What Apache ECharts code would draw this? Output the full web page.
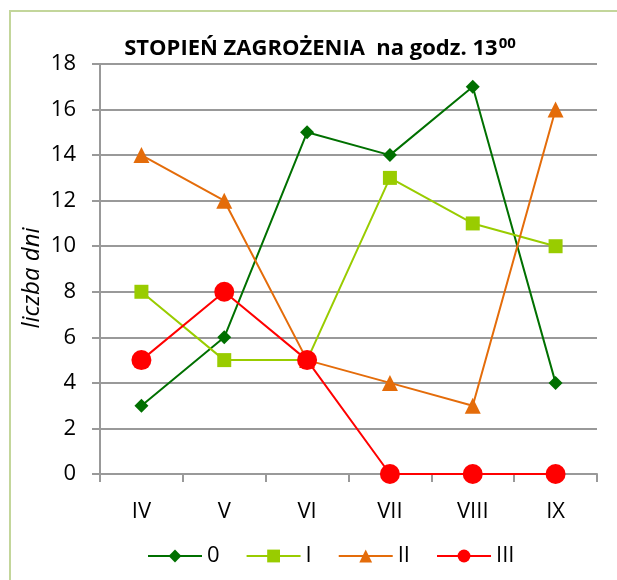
<!DOCTYPE html>
<html>
<head>
<meta charset="utf-8">
<script src="https://cdn.jsdelivr.net/npm/echarts@6/dist/echarts.min.js"></script>
<style>
  html, body { margin: 0; padding: 0; background: #fff; }
  #frame { position: absolute; left: 9px; top: 10px; width: 620px; height: 580px; border: 2px solid #c3d69b; box-sizing: border-box; }
  #chart { width: 617px; height: 580px; position: absolute; left: 0; top: 0; }
</style>
</head>
<body>
<div id="frame"></div>
<div id="chart"></div>
<script>
  // dane
  var months = ["IV", "V", "VI", "VII", "VIII", "IX"];
  var s0 = [3, 6, 15, 14, 17, 4];
  var sI = [8, 5, 5, 13, 11, 10];
  var sII = [14, 12, 5, 4, 3, 16];
  var sIII = [5, 8, 5, 0, 0, 0];
  var yName = "liczba dni";

  var chartDom = document.getElementById("chart");
  var myChart = echarts.init(chartDom);
  var font = "'Open Sans', 'DejaVu Sans', sans-serif";

  function line(name, data, color, symbol, size) {
    return {
      name: name,
      type: "line",
      data: data,
      symbol: symbol,
      symbolSize: size,
      lineStyle: { color: color, width: 2 },
      itemStyle: { color: color },
      animation: false
    };
  }

  var option = {
    textStyle: { fontFamily: font },
    title: {
      text: "{t|STOPIEŃ ZAGROŻENIA  na godz. 13}{s|00}",
      left: 315,
      textAlign: "center",
      top: 31,
      textStyle: {
        rich: {
          t: { fontFamily: font, fontWeight: "bold", fontSize: 22, color: "#000" },
          s: { fontFamily: font, fontWeight: "bold", fontSize: 15, color: "#000", verticalAlign: "top", padding: [0, 0, 10, 1] }
        }
      }
    },
    // nazwa osi Y
    graphic: [
      {
        type: "text",
        x: 32,
        y: 278,
        rotation: Math.PI / 2,
        style: {
          text: yName,
          fontFamily: font,
          fontSize: 24,
          fontStyle: "italic",
          fill: "#000",
          align: "center",
          verticalAlign: "middle"
        }
      }
    ],
    grid: { left: 100, right: 20, top: 64, bottom: 106 },
    legend: {
      bottom: 8,
      left: 142,
      itemWidth: 54,
      itemHeight: 16,
      itemGap: 26,
      textStyle: { fontSize: 22, color: "#000", fontFamily: font },
      data: ["0", "I", "II", "III"]
    },
    xAxis: {
      type: "category",
      data: months,
      boundaryGap: true,
      axisLine: { lineStyle: { color: "#999", width: 2 } },
      axisTick: { show: true, length: 8, lineStyle: { color: "#999", width: 2 } },
      axisLabel: { fontSize: 22, color: "#000", margin: 27 }
    },
    yAxis: {
      type: "value",
      min: 0,
      max: 18,
      interval: 2,
      axisLine: { show: true, lineStyle: { color: "#999", width: 2 } },
      axisTick: { show: true, length: 8, lineStyle: { color: "#999", width: 2 } },
      axisLabel: { fontSize: 22, color: "#000", margin: 24 },
      splitLine: { lineStyle: { color: "#999", width: 2 } }
    },
    series: [
      line("0", s0, "#007000", "diamond", 14),
      line("I", sI, "#99cc00", "rect", 14),
      line("II", sII, "#e46c0a", "triangle", 16),
      line("III", sIII, "#ff0000", "circle", 20)
    ]
  };

  option && myChart.setOption(option);
</script>
</body>
</html>
